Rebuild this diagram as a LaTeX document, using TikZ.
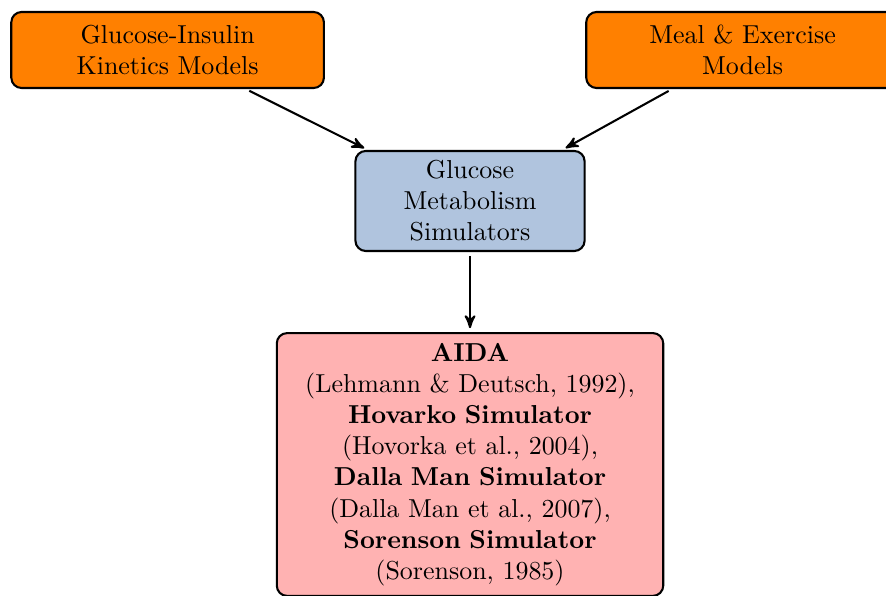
\documentclass[tikz,border=0pt]{standalone}
\usepackage{amsmath,amssymb}
\usepackage{xcolor}
\usepackage{tikz}
\usetikzlibrary{arrows,positioning}
\definecolor{lsblue}{HTML}{B0C4DE}

\begin{document}
\begin{tikzpicture}
		[model/.style={rectangle,draw=black,fill=orange,thick,rounded corners,
			text width=4cm,align=center,minimum height=1.03cm},
		simul/.style={rectangle,draw=black,fill=lsblue,thick,rounded corners,
			text width=2.87cm,align=center,minimum height=1.355cm},
		refs/.style={rectangle,draw=black,fill=red!30,thick,rounded corners,
			text width=5cm,align=center,minimum height=3.56cm},
		flow/.style={->,>=stealth',thick,shorten >=1.5pt,shorten <=1.5pt}]
		\useasboundingbox (0,0) rectangle (12,-8.07);
		%---------------------modelos------------
		\node (gim) at (2.27,-0.677) [model] {Glucose-Insulin\\Kinetics Models};
		\node (mem) at (10.057,-0.677) [model] {Meal \& Exercise\\Models};
		%---------------------simuladores---------
		\node (gms) at (6.366,-2.722) [simul] {Glucose\\Metabolism\\Simulators};
		\node (sims) at (6.366,-4.497) [refs,anchor=north] {\textbf{AIDA}\\
			(Lehmann \& Deutsch, 1992),\\
			\textbf{Hovarko Simulator}\\
			(Hovorka et al., 2004),\\
			\textbf{Dalla Man Simulator}\\
			(Dalla Man et al., 2007),\\
			\textbf{Sorenson Simulator}\\
			(Sorenson, 1985)};
		%---------------------flechas-------------
		\draw[flow] (gim) -- (gms);
		\draw[flow] (mem) -- (gms);
		\draw[flow] (gms) -- (sims);
		\end{tikzpicture}
\end{document}
